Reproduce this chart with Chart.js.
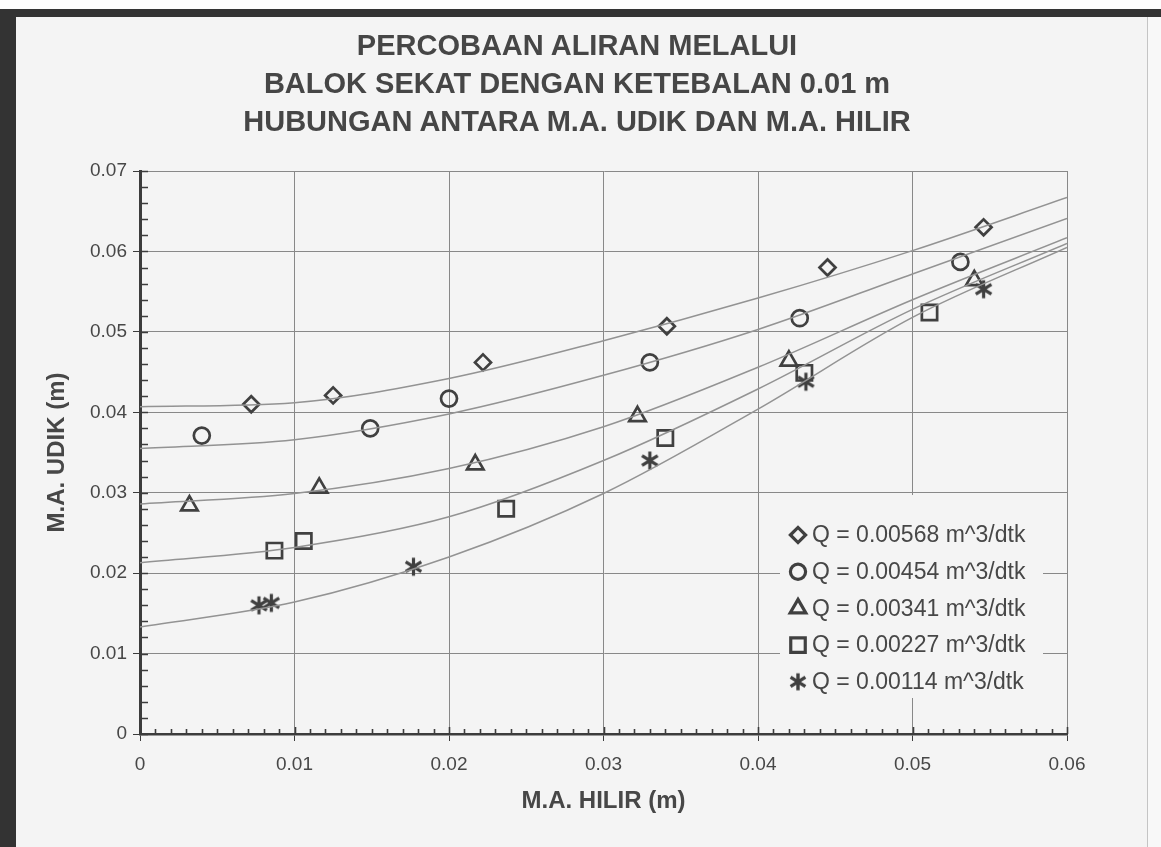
<!DOCTYPE html>
<html>
<head>
<meta charset="utf-8">
<script src="https://cdn.jsdelivr.net/npm/chart.js@4.4.1/dist/chart.umd.min.js"></script>
<style>
  html, body { margin: 0; padding: 0; }
  body { width: 1161px; height: 847px; background: #f4f4f4; position: relative; overflow: hidden;
         font-family: 'Liberation Sans', Arial, sans-serif; }
  #topWhite { position: absolute; left: 0; top: 0; width: 1161px; height: 9px; background: #fdfdfd; }
  #topBar { position: absolute; left: 0; top: 9px; width: 1161px; height: 8px; background: #333; }
  #leftBar { position: absolute; left: 0; top: 9px; width: 16px; height: 838px; background: #333; }
  #rightEdge { position: absolute; left: 1147px; top: 17px; width: 14px; height: 830px;
               border-left: 1px solid #c4c4c4; background: #f8f8f8; }
  #title { position: absolute; left: 0; top: 26px; width: 1154px; text-align: center;
           font-weight: bold; font-size: 29px; line-height: 38px; color: #464646; }
  #chart { position: absolute; left: 0; top: 0; }
</style>
</head>
<body>
<div id="topWhite"></div>
<div id="topBar"></div>
<div id="leftBar"></div>
<div id="rightEdge"></div>
<canvas id="chart" width="1161" height="847"></canvas>
<div id="title">PERCOBAAN ALIRAN MELALUI<br>BALOK SEKAT DENGAN KETEBALAN 0.01 m<br>HUBUNGAN ANTARA M.A. UDIK DAN M.A. HILIR</div>
<script>
// measured points (M.A. HILIR, M.A. UDIK) per discharge
const hilirQ568 = [0.0072, 0.0125, 0.0222, 0.0341, 0.0445, 0.0546];
const udikQ568 = [0.0410, 0.0421, 0.0462, 0.0507, 0.0580, 0.0630];
const hilirQ454 = [0.0040, 0.0149, 0.0200, 0.0330, 0.0427, 0.0531];
const udikQ454 = [0.0371, 0.0380, 0.0417, 0.0462, 0.0517, 0.0587];
const hilirQ341 = [0.0032, 0.0116, 0.0217, 0.0322, 0.0420, 0.0540];
const udikQ341 = [0.0284, 0.0306, 0.0335, 0.0395, 0.0464, 0.0564];
const hilirQ227 = [0.0087, 0.0106, 0.0237, 0.0340, 0.0430, 0.0511];
const udikQ227 = [0.0228, 0.0240, 0.0280, 0.0368, 0.0449, 0.0524];
const hilirQ114 = [0.0077, 0.0085, 0.0177, 0.0330, 0.0431, 0.0546];
const udikQ114 = [0.0160, 0.0163, 0.0208, 0.0340, 0.0438, 0.0553];

// trend curves read at the vertical grid lines
const trendHilir = [0, 0.01, 0.02, 0.03, 0.04, 0.05, 0.06];
const trendQ568 = [0.0407, 0.0412, 0.0442, 0.0489, 0.0542, 0.0601, 0.0667];
const trendQ454 = [0.0355, 0.0366, 0.0398, 0.0446, 0.0503, 0.0572, 0.0641];
const trendQ341 = [0.0286, 0.0299, 0.0330, 0.0382, 0.0456, 0.0540, 0.0617];
const trendQ227 = [0.0213, 0.0232, 0.0270, 0.0340, 0.0429, 0.0528, 0.0610];
const trendQ114 = [0.0133, 0.0164, 0.0220, 0.0299, 0.0404, 0.0518, 0.0605];

const seriesLabels = [
    'Q = 0.00568 m^3/dtk',
    'Q = 0.00454 m^3/dtk',
    'Q = 0.00341 m^3/dtk',
    'Q = 0.00227 m^3/dtk',
    'Q = 0.00114 m^3/dtk'
];

const markColor = '#404040';
const textColor = '#474747';

function makeStar(size, lw) {
    const c = document.createElement('canvas');
    c.width = size;
    c.height = size;
    const g = c.getContext('2d');
    const m = size / 2, r = size / 2 - 1.5;
    g.strokeStyle = markColor;
    g.lineWidth = lw;
    g.lineCap = 'butt';
    g.beginPath();
    g.moveTo(m, m - r); g.lineTo(m, m + r);
    g.moveTo(m - r * 0.87, m - r * 0.55); g.lineTo(m + r * 0.87, m + r * 0.55);
    g.moveTo(m - r * 0.87, m + r * 0.55); g.lineTo(m + r * 0.87, m - r * 0.55);
    g.stroke();
    return c;
}

const starPlot = makeStar(21, 3.2);
const starLegend = makeStar(20, 3.4);

function zip(xs, ys) {
    return xs.map((x, i) => ({ x: x, y: ys[i] }));
}

const markerDefs = [
    { xs: hilirQ568, ys: udikQ568, style: 'rectRot', radius: 8 },
    { xs: hilirQ454, ys: udikQ454, style: 'circle', radius: 8 },
    { xs: hilirQ341, ys: udikQ341, style: 'triangle', radius: 9.5 },
    { xs: hilirQ227, ys: udikQ227, style: 'rect', radius: 10.8 },
    { xs: hilirQ114, ys: udikQ114, style: starPlot, radius: 10 }
];
const trendDefs = [trendQ568, trendQ454, trendQ341, trendQ227, trendQ114];

const datasets = [];
trendDefs.forEach(t => {
    datasets.push({
        data: zip(trendHilir, t),
        showLine: true,
        borderColor: '#939393',
        borderWidth: 1.5,
        pointRadius: 0,
        cubicInterpolationMode: 'monotone',
        fill: false
    });
});
markerDefs.forEach((m, i) => {
    datasets.push({
        label: seriesLabels[i],
        data: zip(m.xs, m.ys),
        showLine: false,
        pointStyle: m.style,
        pointRadius: m.radius,
        pointBorderWidth: 2.7,
        pointBorderColor: markColor,
        pointBackgroundColor: 'rgba(0,0,0,0)'
    });
});

function tickText(v) {
    return String(+Number(v).toFixed(3));
}

// inner minor ticks on both axes
const minorTicks = {
    id: 'minorTicks',
    afterDraw(chart) {
        const { ctx, chartArea } = chart;
        const x = chart.scales.x, y = chart.scales.y;
        ctx.save();
        ctx.strokeStyle = '#3c3c3c';
        ctx.lineWidth = 1.6;
        ctx.beginPath();
        for (let i = 0; i <= 60; i++) {
            const px = Math.round(x.getPixelForValue(i / 1000)) + 0.5;
            const len = i % 10 === 0 ? 7 : 5;
            ctx.moveTo(px, chartArea.bottom);
            ctx.lineTo(px, chartArea.bottom - len);
        }
        for (let i = 0; i <= 35; i++) {
            const py = Math.round(y.getPixelForValue(i * 0.002)) + 0.5;
            ctx.moveTo(chartArea.left, py);
            ctx.lineTo(chartArea.left + 8, py);
        }
        ctx.stroke();
        ctx.restore();
    }
};

// legend box inside the plot, lower right
const legendBox = {
    id: 'legendBox',
    afterDatasetsDraw(chart) {
        const { ctx, chartArea } = chart;
        const left = chartArea.right - 287;
        const top = chartArea.bottom - 239;
        ctx.save();
        ctx.fillStyle = '#f4f4f4';
        ctx.fillRect(left, top, 263, 203);
        ctx.font = '23px "Liberation Sans", Arial, sans-serif';
        ctx.textBaseline = 'middle';
        markerDefs.forEach((m, i) => {
            const cy = top + 40 + i * 36.7;
            ctx.strokeStyle = markColor;
            ctx.fillStyle = 'rgba(0,0,0,0)';
            ctx.lineWidth = 3.2;
            const style = m.style === starPlot ? starLegend : m.style;
            Chart.helpers.drawPoint(ctx, { pointStyle: style, radius: m.radius * 0.95, borderWidth: 3.2, rotation: 0 }, left + 18, cy);
            ctx.fillStyle = textColor;
            ctx.fillText(seriesLabels[i], left + 32, cy + 1);
        });
        ctx.restore();
    }
};

Chart.defaults.font.family = "'Liberation Sans', Arial, sans-serif";

new Chart(document.getElementById('chart').getContext('2d'), {
    type: 'scatter',
    data: { datasets: datasets },
    options: {
        responsive: false,
        animation: false,
        layout: { padding: { top: 171, right: 94, left: 0, bottom: 0 } },
        plugins: {
            legend: { display: false },
            tooltip: { enabled: false }
        },
        scales: {
            x: {
                type: 'linear',
                min: 0,
                max: 0.06,
                afterFit: s => { s.height = 113; },
                ticks: {
                    stepSize: 0.01,
                    callback: tickText,
                    color: textColor,
                    font: { size: 19 },
                    padding: 12
                },
                grid: { color: '#888888', lineWidth: 1, tickColor: '#3c3c3c', tickLength: 7 },
                border: { color: '#3c3c3c', width: 2.5 },
                title: {
                    display: true,
                    text: 'M.A. HILIR (m)',
                    color: textColor,
                    font: { size: 24, weight: 'bold' },
                    padding: { top: 0, bottom: 31 }
                }
            },
            y: {
                type: 'linear',
                min: 0,
                max: 0.07,
                afterFit: s => { s.width = 140; },
                ticks: {
                    stepSize: 0.01,
                    callback: tickText,
                    color: textColor,
                    font: { size: 19 },
                    padding: 6
                },
                grid: { color: '#888888', lineWidth: 1, tickColor: '#3c3c3c', tickLength: 7 },
                border: { color: '#3c3c3c', width: 3 },
                title: {
                    display: true,
                    text: 'M.A. UDIK (m)',
                    color: textColor,
                    font: { size: 24, weight: 'bold' },
                    padding: { top: 43, bottom: 0 }
                }
            }
        }
    },
    plugins: [minorTicks, legendBox]
});
</script>
</body>
</html>
